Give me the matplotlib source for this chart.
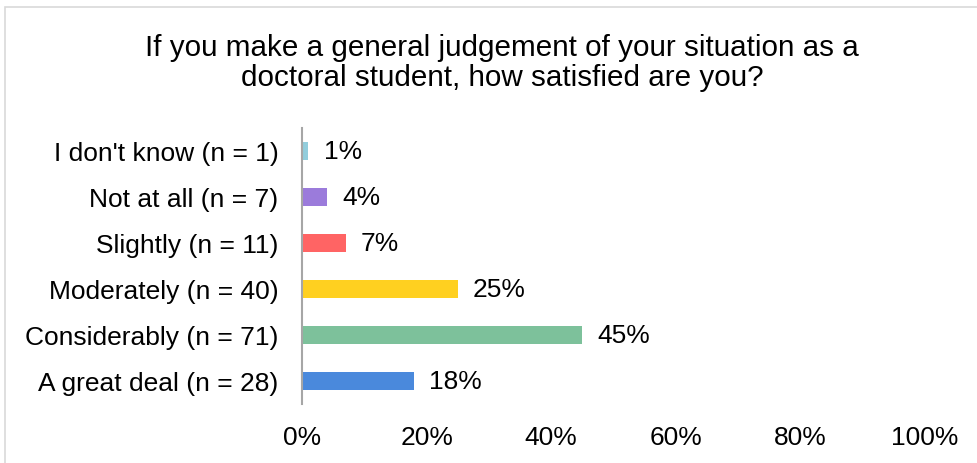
# -*- coding: utf-8 -*-

import matplotlib
matplotlib.use('Agg')
import matplotlib.pyplot as pyplot
import matplotlib.patches as patches

categories = ['A great deal (n = 28)', 'Considerably (n = 71)',
              'Moderately (n = 40)', 'Slightly (n = 11)',
              'Not at all (n = 7)', "I don't know (n = 1)"]
percents = [18, 45, 25, 7, 4, 1]
colors = ['#4A89DC', '#7DC19B', '#FFD020', '#FF6464', '#9B7BDB', '#92CDDC']
x_ticks = [0, 20, 40, 60, 80, 100]
title = ('If you make a general judgement of your situation as a\n'
         'doctoral student, how satisfied are you?')

pyplot.rcParams['font.family'] = ['Liberation Sans', 'DejaVu Sans']

W, H = 977, 463
LABEL_SIZE = 19
fig = pyplot.figure(figsize=(W / 100, H / 100), dpi=100)

# light frame around the chart area
fig.patches.append(patches.Rectangle((5 / W, -0.05), 1.1, (H - 7) / H + 0.05,
                                     transform=fig.transFigure, fill=False,
                                     edgecolor='#D9D9D9', lw=1.2))

axs = fig.add_axes([302 / W, 59 / H, 623 / W, 276 / H])
pos = range(len(categories))
axs.barh(pos, percents, height=0.41, color=colors)

for y, v in zip(pos, percents):
    axs.annotate('%d%%' % v, xy=(v, y), xytext=(11, -1),
                 textcoords='offset points', va='center', ha='left',
                 fontsize=LABEL_SIZE, color='#000000')

axs.set_xlim(0, 100)
axs.set_ylim(-0.5, len(categories) - 0.5)
axs.set_yticks(list(pos))
axs.set_yticklabels(categories, fontsize=LABEL_SIZE)
axs.set_xticks(x_ticks)
axs.set_xticklabels(['%d%%' % t for t in x_ticks], fontsize=LABEL_SIZE)
axs.tick_params(axis='y', length=0, pad=17)
axs.tick_params(axis='x', length=0, pad=16)

for side in ('top', 'right', 'bottom'):
    axs.spines[side].set_visible(False)
axs.spines['left'].set_color('#A6A6A6')
axs.spines['left'].set_linewidth(1.5)

fig.text(502 / W, 1 - 63 / H, title, ha='center', va='center',
         fontsize=21.3, linespacing=1.12)

fig.savefig('out.png', dpi=100)
pyplot.close(fig)
